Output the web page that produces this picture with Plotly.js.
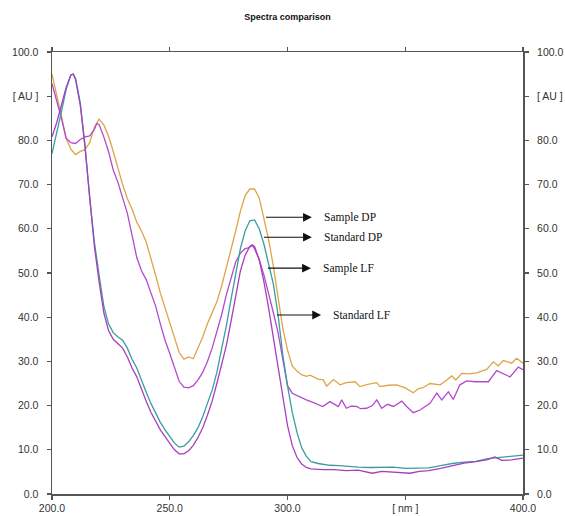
<!DOCTYPE html>
<html>
<head>
<meta charset="utf-8">
<script src="https://cdn.plot.ly/plotly-3.0.1.min.js"></script>
<style>html,body{margin:0;padding:0;background:#fff;}#chart{width:565px;height:516px;}</style>
</head>
<body>
<div id="chart"></div>
<script>
// Sample DP (orange)
var sampleDP_x = [200,202,204,206,208,210,212,214,216,218,220,222,224,226,228,230,232,234,236,238,240,242,244,246,248,250,252,254,256,258,260,262,264,266,268,270,272,274,276,278,280,282,284,286,288,290,292,294,296,298,300,302,304,306,308,309.6,313,315.2,316.6,319.5,322.3,325,328.7,330.8,334,337.9,339.3,343,346.4,350,353.4,355.5,357.7,360.5,364.8,367,369.7,371.5,374,377,380.3,384.6,387.4,389.5,391.6,395.2,397.3,400];
var sampleDP_y = [95.0,90.5,85.5,80.5,78.0,76.8,77.5,77.9,79.5,83.0,84.8,83.5,81.0,77.5,73.5,70.0,66.8,64.5,61.5,59.5,57.0,53.5,49.5,45.5,42.0,38.5,35.0,32.0,30.5,31.0,30.6,33.0,35.5,38.5,41.0,43.5,47.0,51.0,55.0,59.5,64.0,67.5,69.0,69.0,67.0,62.5,57.5,51.5,44.0,37.5,32.6,29.0,27.8,27.0,26.6,26.9,26.0,25.8,24.4,25.9,24.7,25.2,25.4,24.3,24.8,25.2,24.3,24.6,24.7,24.0,22.9,23.8,24.1,25.0,24.7,25.5,26.7,25.8,27.3,27.2,27.4,28.2,29.9,29.0,30.2,29.6,30.7,29.6];

// Standard DP (teal)
var standardDP_x = [200,202,204,206,208,209,210,212,214,216,218,220,222,224,226,228,230,232,234,236,238,240,242,244,246,248,250,252,254,256,258,260,262,264,266,268,270,272,274,276,278,280,282,284,286,288,290,292,294,296,298,300,302,304,306,308,310,313,318,322,326,330,335,340,345,350,355,360,365,370,375,380,385,390,395,400];
var standardDP_y = [77.0,81.5,86.5,91.5,94.8,95.0,94.0,88.5,79.0,67.0,57.0,49.5,42.5,38.5,36.5,35.5,34.8,33.0,30.5,28.5,25.5,23.0,20.5,18.3,16.2,14.5,12.9,11.5,10.6,10.8,11.8,13.2,15.0,17.5,20.5,23.5,27.5,32.5,38.0,44.0,50.0,55.5,59.5,61.8,62.0,60.0,56.5,52.0,47.5,40.5,31.5,24.5,18.5,14.0,10.5,8.5,7.3,6.9,6.5,6.4,6.2,6.1,6.0,6.0,6.1,5.8,5.8,5.9,6.4,6.9,7.2,7.4,8.0,8.3,8.6,8.8];

// Sample LF (upper purple)
var sampleLF_x = [200,202,204,206,208,210,212,214,216,218,219,220,222,224,226,228,230,232,234,236,238,240,242,244,246,248,250,252,254,256,258,260,262,264,266,268,270,272,274,276,278,280,282,283,284,285,286,288,290,292,294,296,298,300,302,305,308,310,312,315,318,320,321.6,323,325,327,329.4,331,333.6,336,337.9,340,342.5,345,348.5,350.6,353.4,356.3,360.5,363.4,365.5,368.3,370.4,373.2,376.1,379.6,381.7,385.3,388.8,391.6,394.5,398,400];
var sampleLF_y = [92.9,89.0,85.0,80.5,79.5,79.3,80.2,80.8,81.0,82.5,83.8,83.6,80.8,77.5,73.3,70.5,67.0,63.5,58.5,53.5,50.5,48.5,45.5,42.5,38.5,34.8,31.8,28.5,25.5,24.2,24.0,24.5,25.8,27.5,30.0,33.0,36.5,40.5,45.0,49.0,52.5,54.5,55.5,55.6,56.0,56.2,55.5,53.0,49.5,45.5,41.0,36.5,30.0,24.5,22.8,22.0,21.3,20.9,20.5,19.8,20.9,20.2,19.8,21.3,19.4,19.9,19.8,19.3,19.4,20.0,21.3,19.4,20.3,19.8,21.0,19.8,18.4,19.0,20.5,22.8,21.3,23.1,21.4,24.7,25.6,25.4,25.4,25.4,27.9,27.3,26.5,28.7,28.1];

// Standard LF (lower purple)
var standardLF_x = [200,202,204,206,208,209,210,212,214,216,218,220,222,224,226,228,230,232,234,236,238,240,242,244,246,248,250,252,254,256,258,260,262,264,266,268,270,272,274,276,278,280,282,284,285,286,288,290,292,294,296,298,300,302,304,306,308,310,315,320,325,330,333,336,340,345,350,352,356,360,365,370,375,380,385,388,391,395,400];
var standardLF_y = [80.8,84.0,88.0,92.0,94.8,95.0,93.8,88.0,78.5,66.5,56.0,48.0,41.0,37.0,35.0,34.0,33.0,31.0,28.5,26.5,23.5,21.0,18.5,16.5,14.5,13.0,11.5,10.0,9.1,9.1,9.8,11.0,12.8,15.0,17.8,21.0,25.0,29.5,33.5,39.0,45.0,50.5,54.0,56.0,56.4,56.0,53.0,48.0,42.0,35.5,28.5,21.5,15.5,11.0,8.3,6.8,6.0,5.7,5.5,5.5,5.3,5.4,5.0,4.7,5.1,5.0,4.9,4.7,5.1,5.3,5.8,6.4,7.0,7.3,7.8,8.4,7.6,7.7,8.1];

var xTickVals = [200,250,300,350,400];
var xTickText = ['200.0','250.0','300.0','[ nm ]','400.0'];
var yTickVals = [0,10,20,30,40,50,60,70,80,90,100];
var yTickText = ['0.0','10.0','20.0','30.0','40.0','50.0','60.0','70.0','80.0','[ AU ]','100.0'];

var seriesNames = ['Sample DP','Standard DP','Sample LF','Standard LF'];
var seriesColors = ['#DFA445','#3A9C9E','#B24ACB','#A83EC0'];

function line(x, y, i) {
  return {x: x, y: y, type: 'scatter', mode: 'lines', name: seriesNames[i],
          line: {color: seriesColors[i], width: 1.3}, hoverinfo: 'skip'};
}

var data = [
  line(sampleDP_x, sampleDP_y, 0),
  line(sampleLF_x, sampleLF_y, 2),
  line(standardDP_x, standardDP_y, 1),
  line(standardLF_x, standardLF_y, 3)
];
// invisible copy bound to the right-hand axis so its tick labels are drawn
var rightCopy = line(standardDP_x, standardDP_y, 1);
rightCopy.yaxis = 'y2';
rightCopy.opacity = 0;
rightCopy.showlegend = false;
data.push(rightCopy);

var axisFont = {family: 'Liberation Sans, Arial, sans-serif', size: 10.5, color: '#333'};

function arrowLabel(text, tx, ty, lx) {
  return {x: tx, y: ty, xref: 'x', yref: 'y', ax: lx, ay: ty, axref: 'x', ayref: 'y',
          text: text, xanchor: 'left', yanchor: 'middle', showarrow: true,
          arrowside: 'start', startarrowhead: 2, startarrowsize: 1.6, arrowhead: 2, arrowsize: 1.6,
          arrowwidth: 1.1, arrowcolor: '#111', startstandoff: 10,
          font: {family: 'Liberation Serif, Times New Roman, serif', size: 11.5, color: '#111'}};
}

var layout = {
  width: 565, height: 516,
  margin: {l: 52, r: 42, t: 52, b: 22},
  paper_bgcolor: '#fff', plot_bgcolor: '#fff',
  showlegend: false,
  title: {text: '<b>Spectra comparison</b>', font: {family: 'Liberation Sans, Arial, sans-serif', size: 9, color: '#111'},
          xref: 'paper', x: 0.5, xanchor: 'center', yref: 'container', y: 0.967, yanchor: 'middle'},
  xaxis: {range: [200, 400], tickvals: xTickVals, ticktext: xTickText, showgrid: false, zeroline: false,
          showline: true, linecolor: '#555', linewidth: 1.5, mirror: 'allticks', ticks: 'outside',
          ticklen: 4, tickcolor: '#555', tickwidth: 1.2, tickfont: axisFont},
  yaxis: {range: [0, 100], tickvals: yTickVals, ticktext: yTickText, showgrid: false, zeroline: false,
          showline: true, linecolor: '#555', linewidth: 1.5, mirror: 'allticks', ticks: 'outside',
          ticklen: 4, tickcolor: '#555', tickwidth: 1.2, ticklabelstandoff: 6, tickfont: axisFont},
  yaxis2: {overlaying: 'y', side: 'right', anchor: 'x', range: [0, 100], tickvals: yTickVals, ticktext: yTickText,
           showgrid: false, zeroline: false, showline: false, ticks: 'outside', ticklen: 11,
           tickcolor: 'rgba(0,0,0,0)', automargin: false, tickfont: axisFont},
  annotations: [
    arrowLabel('Sample DP', 290.9, 62.6, 314.6),
    arrowLabel('Standard DP', 290.0, 58.1, 314.6),
    arrowLabel('Sample LF', 291.7, 51.1, 314.2),
    arrowLabel('Standard LF', 295.5, 40.5, 318.5)
  ]
};

Plotly.newPlot('chart', data, layout, {displayModeBar: false, staticPlot: true});
</script>
</body>
</html>
